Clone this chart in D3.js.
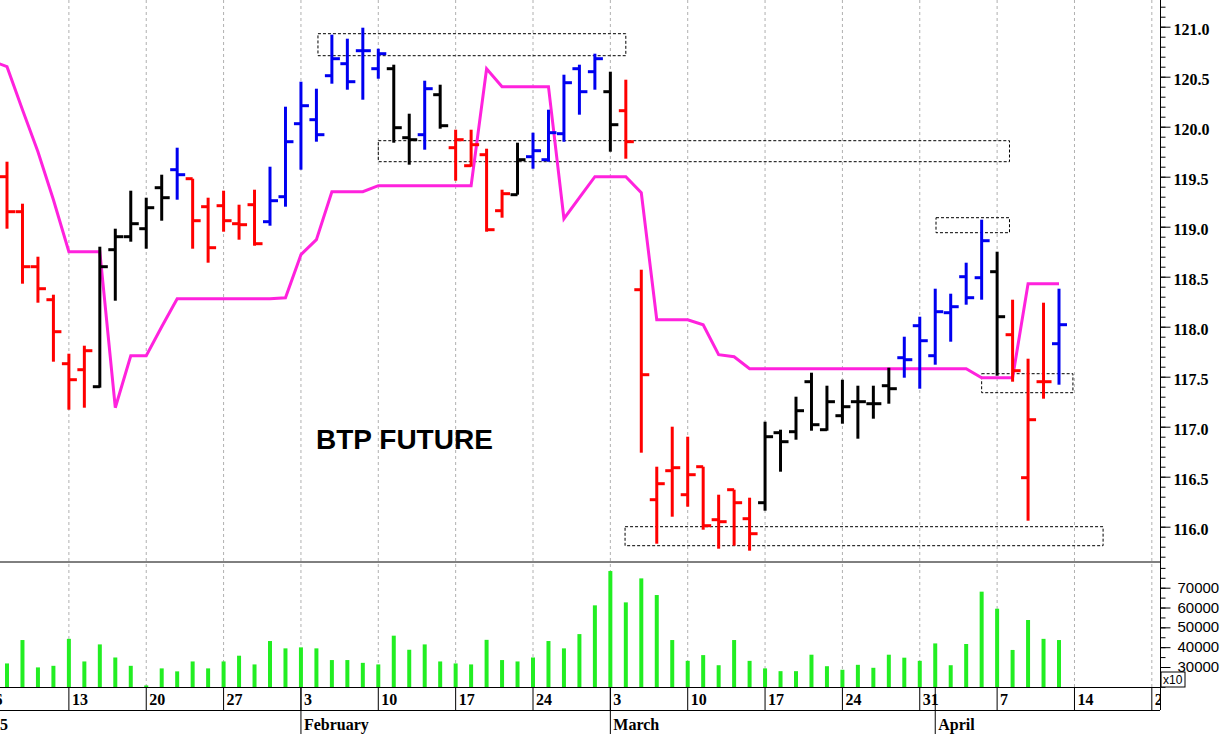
<!DOCTYPE html>
<html>
<head>
<meta charset="UTF-8">
<title>BTP Future</title>
<script src="https://d3js.org/d3.v7.min.js"></script>
<style>
  body { margin: 0; background: #fff; }
  svg { display: block; }
</style>
</head>
<body>
<svg width="1231" height="734"></svg>
<script>
// OHLC bars, Jan 7 .. Apr 11 (trading days)
const opens  = [119.50,119.15,118.60,118.27,117.63,117.57,117.40,118.77,118.90,118.98,119.39,119.57,119.48,119.20,119.21,119.03,119.22,119.05,119.30,120.03,120.07,120.51,120.63,120.76,120.58,120.58,119.89,119.92,120.32,119.79,119.61,119.72,119.16,119.32,119.70,119.67,119.93,120.58,120.55,120.35,120.16,118.37,116.27,116.56,116.32,116.60,116.07,116.37,116.08,116.24,116.94,116.95,117.45,116.97,117.11,117.25,117.23,117.41,117.69,118.01,117.71,118.14,118.50,118.49,118.55,117.92,116.49,117.45,117.83];
const highs  = [119.65,119.23,118.70,118.32,117.73,117.81,118.80,118.98,119.36,119.29,119.52,119.79,119.48,119.29,119.36,119.22,119.37,119.60,120.20,120.45,120.38,120.92,120.88,120.99,120.78,120.62,120.13,120.46,120.42,119.97,119.97,119.78,119.37,119.84,119.94,120.17,120.52,120.62,120.73,120.55,120.47,118.57,116.60,117.00,116.90,116.60,116.32,116.37,116.29,117.05,116.97,117.30,117.54,117.41,117.47,117.41,117.41,117.59,117.90,118.10,118.38,118.33,118.64,119.07,118.75,118.27,117.68,118.24,118.38];
const lows   = [118.98,118.43,118.24,117.65,117.17,117.19,117.39,118.26,118.85,118.78,119.06,119.27,118.78,118.64,118.95,118.87,118.81,119.01,119.20,119.57,119.85,120.43,120.37,120.27,120.48,119.84,119.62,119.77,119.98,119.46,119.60,118.95,119.09,119.32,119.58,119.65,119.85,120.12,120.37,119.75,119.68,116.74,115.83,116.10,116.20,115.97,115.78,115.81,115.76,116.16,116.55,116.87,116.96,116.96,117.03,116.88,117.08,117.23,117.49,117.38,117.62,117.85,118.22,118.27,117.51,117.45,116.06,117.28,117.42];
const closes = [119.15,118.60,118.38,117.95,117.47,117.76,118.60,118.90,119.03,119.19,119.29,119.52,119.06,118.79,119.06,119.02,118.83,119.26,119.85,120.21,119.92,120.68,120.45,120.76,120.73,119.99,119.87,120.38,120.01,119.87,119.82,118.97,119.33,119.67,119.76,119.94,120.44,120.35,120.68,120.02,119.85,117.52,116.43,116.59,116.52,116.01,116.05,116.24,115.93,116.90,116.85,117.16,117.02,117.25,117.20,117.25,117.23,117.38,117.67,117.86,118.15,118.20,118.29,118.86,118.10,117.56,117.07,117.45,118.02];
const barColors = "RRRRRRKKKKKBRRRRRBBBBBBBBKKBKRRRRKBBBBBKRRRRRRRRRKKKKKKKKKBBBBBBKRRRB".split("");
// trailing stop line (magenta), first value belongs to Jan 6 (off the left edge)
const stopLine = [120.66,120.60,120.17,119.75,119.27,118.75,118.75,118.75,117.19,117.71,117.71,118.00,118.28,118.28,118.28,118.28,118.28,118.28,118.28,118.29,118.72,118.87,119.35,119.35,119.35,119.41,119.41,119.41,119.41,119.41,119.41,119.41,120.58,120.40,120.40,120.40,120.40,119.08,119.29,119.50,119.50,119.50,119.34,118.07,118.07,118.07,118.02,117.72,117.70,117.58,117.58,117.58,117.58,117.58,117.58,117.58,117.58,117.58,117.58,117.58,117.58,117.58,117.58,117.58,117.49,117.49,117.49,118.43,118.43,118.43];
const volumes = [31800,43600,29800,30600,44200,32800,41400,34800,30600,20700,29300,27800,32800,29300,32800,35700,31300,43100,39400,39900,39400,33500,33500,32100,31300,45800,38700,41400,32800,31800,31300,43700,33500,32800,34800,43100,39400,46600,61100,78400,62600,74700,66300,43600,33100,36000,30900,43600,33100,29300,27900,27900,36200,30400,28600,31100,29600,36200,34700,33100,41900,30900,41600,68000,59400,38600,53700,44200,43600];
// dashed zones: [fromIndex, toIndex, low, high]
const zones = [[20.1,40,120.71,120.93],[24,64.8,119.65,119.86],[60.05,64.8,118.94,119.09],[63,68.9,117.34,117.53],[39.95,70.85,115.81,116.0]];
const dayTicks = [[-1,"6"],[4,"13"],[9,"20"],[14,"27"],[19,"3"],[24,"10"],[29,"17"],[34,"24"],[39,"3"],[44,"10"],[49,"17"],[54,"24"],[59,"31"],[64,"7"],[69,"14"],[74,"21"]];
const months = [[19,"February"],[39,"March"],[60,"April"]];
const priceTicks = [116,116.5,117,117.5,118,118.5,119,119.5,120,120.5,121];
const volTicks = [30000,40000,50000,60000,70000];

const svg = d3.select("svg");
const axisX = 1160;
const x = d3.scaleLinear().domain([0, 68]).range([7, 1059]);
const y = d3.scaleLinear().domain([116, 121]).range([526.7, 26.7]);
const yv = d3.scaleLinear().domain([30000, 70000]).range([667, 587.7]);
const colorOf = { R: "#ff0000", K: "#000000", B: "#0000f0" };

svg.append("rect").attr("width", 1231).attr("height", 734).attr("fill", "#fff");

// grid
dayTicks.forEach(([i]) => {
  if (x(i) < 0 || x(i) >= axisX) return;
  svg.append("line").attr("x1", x(i)).attr("x2", x(i)).attr("y1", 0).attr("y2", 687)
    .attr("stroke", "#b0b0b0").attr("stroke-dasharray", "3,3");
});

// zones
const g = svg.append("g");
zones.forEach(([a, b, lo, hi]) => {
  g.append("rect").attr("x", x(a)).attr("width", x(b) - x(a))
    .attr("y", y(hi)).attr("height", y(lo) - y(hi))
    .attr("fill", "none").attr("stroke", "#000").attr("stroke-dasharray", "3,2");
});

// stop line
g.append("path").datum(stopLine)
  .attr("fill", "none").attr("stroke", "#ff22dd").attr("stroke-width", 3)
  .attr("d", d3.line().x((d, i) => x(i - 1)).y(d => y(d)));

// OHLC bars
opens.forEach((o, i) => {
  const c = colorOf[barColors[i]];
  const cx = x(i);
  g.append("line").attr("x1", cx).attr("x2", cx).attr("y1", y(highs[i])).attr("y2", y(lows[i]))
    .attr("stroke", c).attr("stroke-width", 3);
  g.append("line").attr("x1", cx - 7).attr("x2", cx).attr("y1", y(o)).attr("y2", y(o))
    .attr("stroke", c).attr("stroke-width", 3);
  g.append("line").attr("x1", cx).attr("x2", cx + 8).attr("y1", y(closes[i])).attr("y2", y(closes[i]))
    .attr("stroke", c).attr("stroke-width", 3);
});

svg.append("text").attr("x", 316).attr("y", 449).text("BTP FUTURE")
  .attr("font-family", "Liberation Sans, Arial, sans-serif").attr("font-weight", "bold")
  .attr("font-size", 28);

// volume
svg.selectAll(".vol").data(volumes).enter().append("line").attr("class", "vol")
  .attr("x1", (d, i) => x(i)).attr("x2", (d, i) => x(i))
  .attr("y1", 687).attr("y2", d => yv(d))
  .attr("stroke", "#22ee22").attr("stroke-width", 4);

// frames
svg.append("line").attr("x1", 0).attr("x2", axisX).attr("y1", 562).attr("y2", 562).attr("stroke", "#000");
svg.append("line").attr("x1", 0).attr("x2", axisX).attr("y1", 687.5).attr("y2", 687.5).attr("stroke", "#000");
svg.append("line").attr("x1", 0).attr("x2", axisX).attr("y1", 710.5).attr("y2", 710.5).attr("stroke", "#000");
svg.append("line").attr("x1", axisX + 0.5).attr("x2", axisX + 0.5).attr("y1", 0).attr("y2", 710).attr("stroke", "#000");

// price axis
const serif = "Liberation Serif, Times New Roman, serif";
const pa = svg.append("g").attr("transform", `translate(${axisX + 0.5},0)`)
  .call(d3.axisRight(y).tickValues(d3.range(115.7, 121.25, 0.1)).tickSize(5).tickFormat(""));
pa.select(".domain").remove();
const pb = svg.append("g").attr("transform", `translate(${axisX + 0.5},0)`)
  .call(d3.axisRight(y).tickValues(priceTicks).tickSize(10).tickPadding(3).tickFormat(d3.format(".1f")));
pb.select(".domain").remove();
pb.selectAll("text").attr("font-family", serif).attr("font-weight", "bold").attr("font-size", 16).attr("dy", "0.5em");

// volume axis
const va = svg.append("g").attr("transform", `translate(${axisX + 0.5},0)`)
  .call(d3.axisRight(yv).tickValues(d3.range(20000, 82000, 5000)).tickSize(5).tickFormat(""));
va.select(".domain").remove();
const vb = svg.append("g").attr("transform", `translate(${axisX + 0.5},0)`)
  .call(d3.axisRight(yv).tickValues(volTicks).tickSize(10).tickPadding(7).tickFormat(d => d));
vb.select(".domain").remove();
vb.selectAll("text").attr("font-family", "Liberation Sans, Arial, sans-serif").attr("font-size", 15).attr("dy", "0.3em");
svg.append("rect").attr("x", axisX + 1).attr("y", 672).attr("width", 24).attr("height", 15)
  .attr("fill", "#fff").attr("stroke", "#000");
svg.append("text").attr("x", axisX + 3).attr("y", 684).text("x10")
  .attr("font-family", "Liberation Sans, Arial, sans-serif").attr("font-size", 12);

// date axis
const dg = svg.append("g");
dayTicks.forEach(([i, l]) => {
  const px = x(i);
  dg.append("line").attr("x1", px).attr("x2", px).attr("y1", 687).attr("y2", 710).attr("stroke", "#000");
  dg.append("text").attr("x", px + 3).attr("y", 705).text(l)
    .attr("font-family", serif).attr("font-weight", "bold").attr("font-size", 16);
});
months.forEach(([i, l]) => {
  const px = x(i);
  dg.append("line").attr("x1", px).attr("x2", px).attr("y1", 687).attr("y2", 734).attr("stroke", "#000");
  dg.append("text").attr("x", px + 3).attr("y", 730).text(l)
    .attr("font-family", serif).attr("font-weight", "bold").attr("font-size", 16);
});
dg.append("text").attr("x", 8).attr("y", 730).attr("text-anchor", "end").text("2025")
  .attr("font-family", serif).attr("font-weight", "bold").attr("font-size", 16);
// cover date text past the axis
svg.append("rect").attr("x", axisX + 1).attr("y", 689).attr("width", 70).attr("height", 45).attr("fill", "#fff");
</script>
</body>
</html>
